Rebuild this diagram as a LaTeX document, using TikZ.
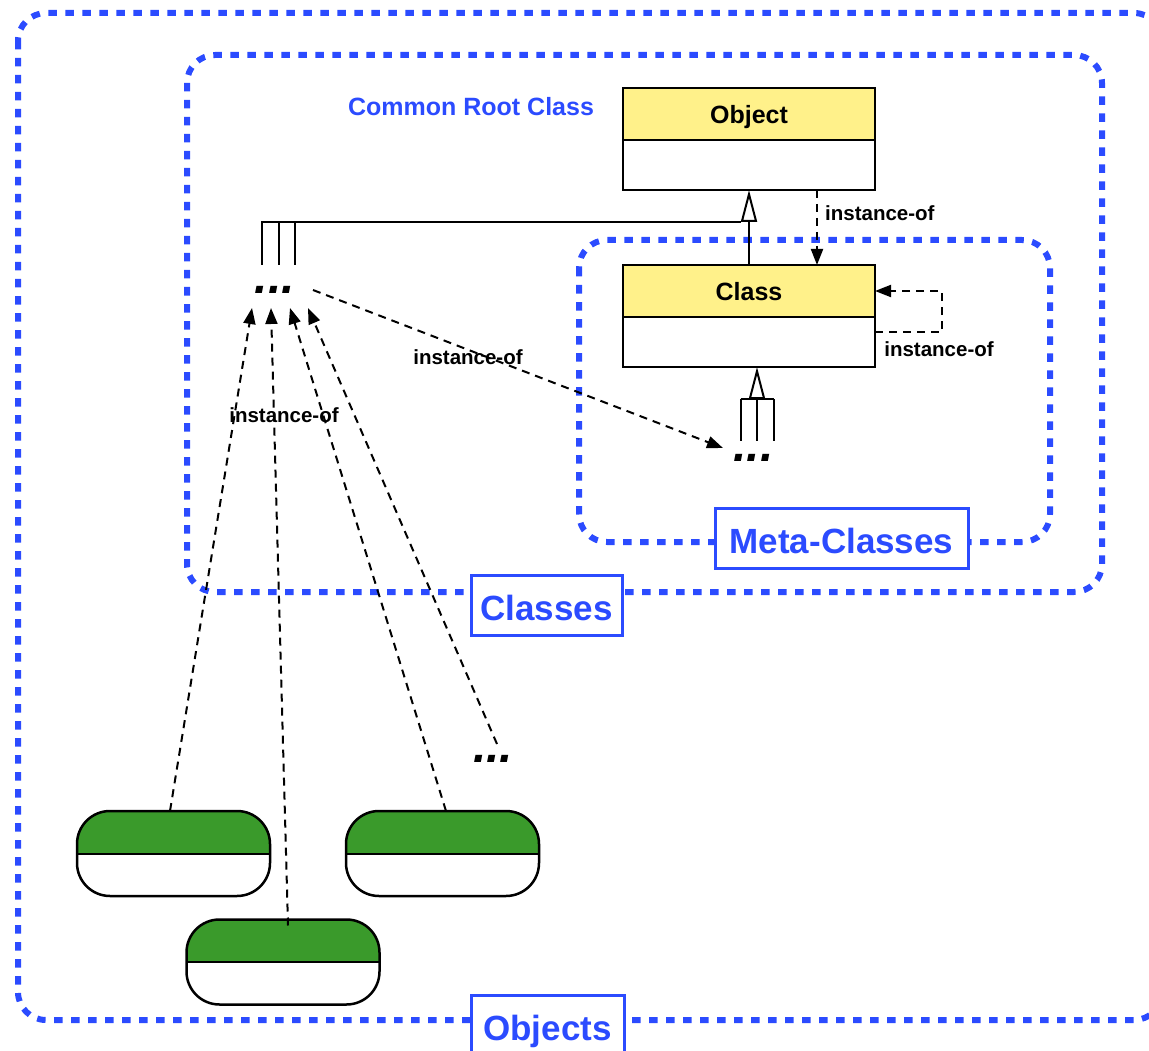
\documentclass[tikz,border=0pt]{standalone}
\usepackage{fontspec}
\setmainfont{Liberation Sans}
\usetikzlibrary{arrows.meta,calc}
\definecolor{frameblue}{RGB}{43,75,255}
\definecolor{hdryellow}{RGB}{255,241,138}
\definecolor{objgreen}{RGB}{58,154,43}

\begin{document}
\begin{tikzpicture}[x=1pt,y=-1pt,
  frame/.style={draw=frameblue, line width=6pt, dash pattern=on 8.5pt off 8.5pt, rounded corners=28pt},
  tag/.style={draw=frameblue, line width=3pt, fill=white, text=frameblue,
    font=\bfseries\fontsize{35}{40}\selectfont, text height=30pt, text depth=0pt,
    minimum height=60pt, inner sep=0pt, outer sep=0pt},
  hdr/.style={draw, line width=2.5pt, fill=hdryellow, minimum width=252pt, minimum height=52pt,
    font=\bfseries\fontsize{25}{30}\selectfont, text height=20pt, text depth=0pt,
    inner sep=0pt, outer sep=0pt},
  body/.style={draw, line width=2.5pt, fill=white, minimum width=252pt, minimum height=50pt,
    inner sep=0pt, outer sep=0pt},
  inst/.style={line width=2pt, dash pattern=on 8pt off 6pt, -{Triangle[length=16pt,width=12pt]}},
  lbl/.style={font=\bfseries\fontsize{20.5}{24}\selectfont, inner sep=0pt},
  gen/.style={line width=2pt, -{Triangle[open, length=32pt, width=16pt, fill=white]}},
  plain/.style={line width=2pt},
  dots/.style={font=\bfseries\itshape\fontsize{48}{48}\selectfont, inner sep=0pt},
  objbox/.style={draw, line width=2.5pt, rounded corners=33pt, minimum width=193pt,
    minimum height=85pt, inner sep=0pt, outer sep=0pt, fill=white,
    path picture={
      \fill[objgreen, sharp corners] (path picture bounding box.north west) rectangle (path picture bounding box.east);
      \draw[line width=2pt, sharp corners] (path picture bounding box.west) -- (path picture bounding box.east);}},
]
\useasboundingbox (0,0) rectangle (1149,1051);

% nested containers
\draw[frame] (18,13) rectangle (1162,1020);
\draw[frame] (187,55) rectangle (1102,592);
\draw[frame] (579,240) rectangle (1050,542);

% root class
\node[text=frameblue, font=\bfseries\fontsize{25}{30}\selectfont] (rootlbl) at (471,107) {Common Root Class};
\node[hdr] (objhdr) at (749,114) {Object};
\node[body, anchor=north] (objbody) at (objhdr.south) {};

% meta class
\node[hdr] (clshdr) at (749,291) {Class};
\node[body, anchor=north] (clsbody) at (clshdr.south) {};

% placeholders for further classes
\node[dots] (dots1) at (275,290) {...};
\node[dots] (dots2) at (753.5,458) {...};
\node[dots] (dots3) at (493,759) {...};

% generalization: classes -> Object
\draw[gen] (clshdr.north) -- (objbody.south);
\coordinate (genbase) at ($(objbody.south)+(-8,32)$);
\coordinate (barL) at (262,222);
\draw[plain] (genbase) -- (barL) -- ++(0,43);
\draw[plain] (279,222) -- (279,265);
\draw[plain] (295,222) -- (295,265);

% generalization: meta-classes -> Class
\coordinate (subbar) at ($(clsbody.south)+(8,32)$);
\draw[gen] (subbar) -- (subbar |- clsbody.south);
\draw[plain] ($(subbar)+(-16.5,0)$) -- ($(subbar)+(16.5,0)$);
\draw[plain] ($(subbar)+(-16.5,0)$) -- ++(0,42);
\draw[plain] (subbar) -- ++(0,42);
\draw[plain] ($(subbar)+(16.5,0)$) -- ++(0,42);

% instance-of: Object -> Class, Class -> Class
\draw[inst] ([xshift=68pt]objbody.south) -- ([xshift=68pt]clshdr.north);
\node[lbl, anchor=west] (lblA) at (825,213) {instance-of};
\draw[inst] ([yshift=10pt]clsbody.east) -- ++(67,0) |- (clshdr.east);
\node[lbl] (lblB) at (939,349) {instance-of};

% instance-of: classes -> meta-classes
\coordinate (fromdots1) at (313,290);
\coordinate (todots2) at (723,448);
\draw[inst] (fromdots1) -- (todots2);
\node[lbl] (lblC) at (468,357) {instance-of};

% objects
\node[objbox] (o1) at (173.5,853.5) {};
\node[objbox] (o2) at (442.5,853.5) {};
\node[objbox] (o3) at (283,962) {};

% instance-of: objects -> classes
\coordinate (tip1) at (252,308);
\coordinate (tip2) at (271,308);
\coordinate (tip3) at (290,308);
\coordinate (tip4) at (308,308);
\coordinate (fromdots3) at (497,744);
\draw[inst] ([xshift=-3.5pt]o1.north) -- (tip1);
\draw[inst] ([xshift=5pt,yshift=-6pt]o3.north) -- (tip2);
\draw[inst] ([xshift=3.5pt]o2.north) -- (tip3);
\draw[inst] (fromdots3) -- (tip4);
\node[lbl] (lblD) at (284,415) {instance-of};

% container tags
\node[tag, minimum width=253pt] (metatag) at (841.5,538) {Meta-Classes};
\node[tag, minimum width=151pt] (clstag) at (546.5,605) {Classes};
\node[tag, minimum width=153pt] (objtag) at (547.5,1025) {Objects};
\end{tikzpicture}
\end{document}
